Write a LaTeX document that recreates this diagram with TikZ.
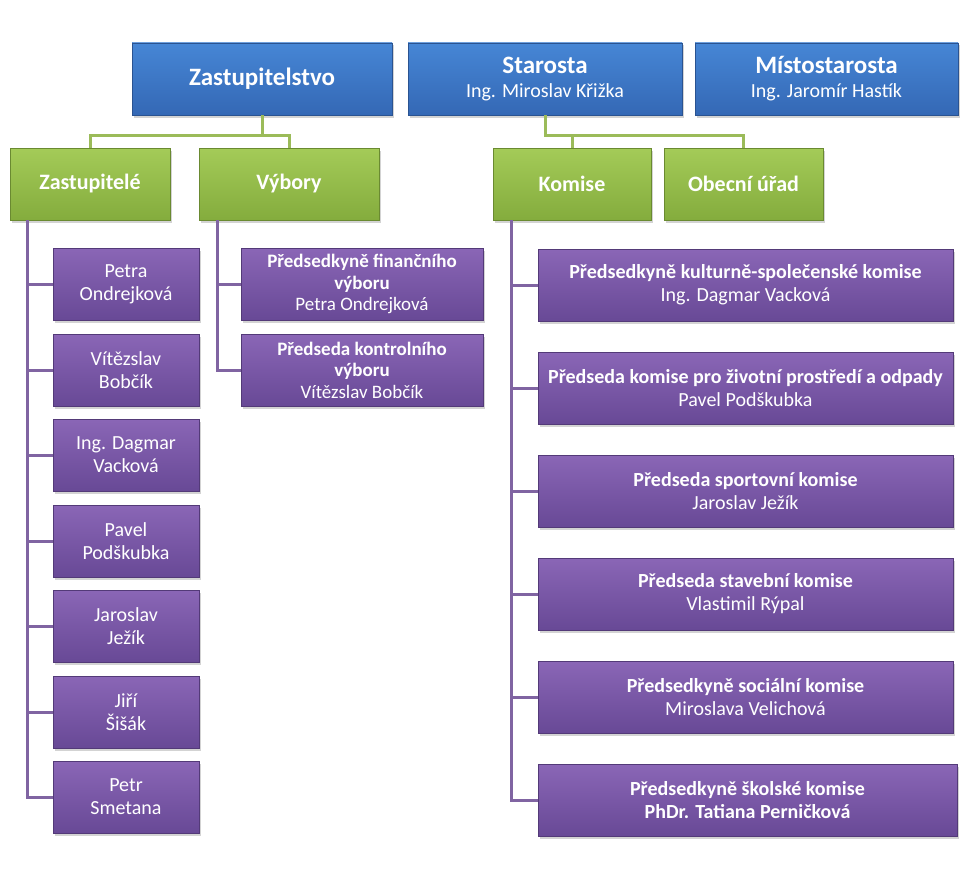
\documentclass[tikz,border=0pt]{standalone}
\usepackage{fontspec}
\setmainfont{Carlito}
\usetikzlibrary{shadows}
\definecolor{bluetop}{HTML}{4686D5}
\definecolor{bluebot}{HTML}{3468B5}
\definecolor{greentop}{HTML}{A4CB58}
\definecolor{greenbot}{HTML}{84AC3D}
\definecolor{purptop}{HTML}{8A66B6}
\definecolor{purpbot}{HTML}{684996}
\definecolor{gline}{HTML}{9BBB59}
\definecolor{pline}{HTML}{8064A2}
\tikzset{
  box/.style={rectangle, inner sep=0pt, text=white, align=center,
    drop shadow={shadow xshift=1.5pt, shadow yshift=-2.5pt, opacity=0.35},
    path picture={
      \fill[white,opacity=0.22] (path picture bounding box.north west) -- (path picture bounding box.north east)
        -- ([xshift=-6pt,yshift=6pt]path picture bounding box.north east) -- ([xshift=6pt,yshift=6pt]path picture bounding box.north west) -- cycle;
      \fill[black,opacity=0.15] (path picture bounding box.south west) -- (path picture bounding box.south east)
        -- ([xshift=-6pt,yshift=-6pt]path picture bounding box.south east) -- ([xshift=6pt,yshift=-6pt]path picture bounding box.south west) -- cycle;
    }},
  bluebox/.style={box, top color=bluetop, bottom color=bluebot, draw=bluebot!80!black, line width=0.4pt,
    minimum height=72pt, font=\fontsize{20}{24}\selectfont},
  greenbox/.style={box, top color=greentop, bottom color=greenbot, draw=greenbot!80!black, line width=0.4pt,
    minimum height=72pt, font=\fontsize{22}{26}\selectfont\bfseries},
  purpbox/.style={box, top color=purptop, bottom color=purpbot, draw=purpbot!80!black, line width=0.4pt,
    minimum height=72pt, font=\fontsize{20}{23}\selectfont},
  midbox/.style={purpbox, font=\fontsize{19}{21.5}\selectfont},
  gconn/.style={draw=gline, line width=3pt},
  pconn/.style={draw=pline, line width=3pt},
}
\newcommand{\ttl}[1]{{\fontsize{25}{28}\selectfont\bfseries #1}}
\begin{document}
\begin{tikzpicture}[x=1pt,y=-1pt]
\useasboundingbox (0,0) rectangle (973,875);
% top
\node[bluebox, minimum width=260pt] (zast) at (262,79) {\ttl{Zastupitelstvo}};
\node[bluebox, minimum width=274pt] (star) at (545,79) {\ttl{Starosta}\\Ing. Miroslav Křižka};
\node[bluebox, minimum width=263pt] (mist) at (826.5,79) {\ttl{Místostarosta}\\Ing. Jaromír Hastík};
% green
\node[greenbox, minimum width=160pt] (zastupitele) at (90,184) {Zastupitelé};
\node[greenbox, minimum width=180pt] (vybory) at (289,184) {Výbory};
\node[greenbox, minimum width=158pt] (komise) at (572,184) {Komise};
\node[greenbox, minimum width=159pt] (urad) at (743.5,184) {Obecní úřad};
% left purple column
\node[purpbox, minimum width=146pt] (p1) at (126,284) {Petra\\Ondrejková};
\node[purpbox, minimum width=146pt] (p2) at (126,370) {Vítězslav\\Bobčík};
\node[purpbox, minimum width=146pt] (p3) at (126,455) {Ing. Dagmar\\Vacková};
\node[purpbox, minimum width=146pt] (p4) at (126,541) {Pavel\\Podškubka};
\node[purpbox, minimum width=146pt] (p5) at (126,626) {Jaroslav\\Ježík};
\node[purpbox, minimum width=146pt] (p6) at (126,712) {Jiří\\Šišák};
\node[purpbox, minimum width=146pt] (p7) at (126,797) {Petr\\Smetana};
% middle purple
\node[midbox, minimum width=242pt] (v1) at (362,284) {\textbf{Předsedkyně finančního}\\\textbf{výboru}\\Petra Ondrejková};
\node[midbox, minimum width=242pt] (v2) at (362,370) {\textbf{Předseda kontrolního}\\\textbf{výboru}\\Vítězslav Bobčík};
% right purple
\node[purpbox, minimum width=415pt] (k1) at (745.5,285) {\textbf{Předsedkyně kulturně-společenské komise}\\Ing. Dagmar Vacková};
\node[purpbox, minimum width=415pt] (k2) at (745.5,388) {\textbf{Předseda komise pro životní prostředí a odpady}\\Pavel Podškubka};
\node[purpbox, minimum width=415pt] (k3) at (745.5,491) {\textbf{Předseda sportovní komise}\\Jaroslav Ježík};
\node[purpbox, minimum width=415pt] (k4) at (745.5,594) {\textbf{Předseda stavební komise}\\Vlastimil Rýpal};
\node[purpbox, minimum width=415pt] (k5) at (745.5,697) {\textbf{Předsedkyně sociální komise}\\Miroslava Velichová};
\node[purpbox, minimum width=419pt] (k6) at (747.5,800) {\textbf{Předsedkyně školské komise}\\\textbf{PhDr. Tatiana Perničková}};
% green connectors
\draw[gconn] (zast.south) -- ++(0,20) coordinate (zj) -| (zastupitele.north);
\draw[gconn] (zj) -| (vybory.north);
\draw[gconn] (star.south) -- ++(0,20) coordinate (sj) -| (komise.north);
\draw[gconn] (sj) -| (urad.north);
% purple connectors
\coordinate (lz) at ([xshift=18pt]zastupitele.south west);
\foreach \n in {p1,p2,p3,p4,p5,p6,p7} \draw[pconn] (lz) |- (\n.west);
\coordinate (lv) at ([xshift=19pt]vybory.south west);
\foreach \n in {v1,v2} \draw[pconn] (lv) |- (\n.west);
\coordinate (lk) at ([xshift=19pt]komise.south west);
\foreach \n in {k1,k2,k3,k4,k5,k6} \draw[pconn] (lk) |- (\n.west);
\end{tikzpicture}
\end{document}
